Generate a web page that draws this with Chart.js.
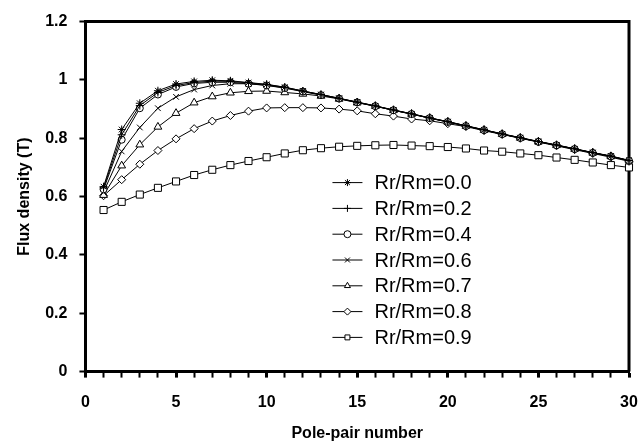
<!DOCTYPE html>
<html>
<head>
<meta charset="utf-8">
<script src="https://cdn.jsdelivr.net/npm/chart.js@4/dist/chart.umd.min.js"></script>
<style>
  html, body { margin: 0; padding: 0; background: #fff; }
  #wrap { width: 642px; height: 443px; }
</style>
</head>
<body>
<div id="wrap"><canvas id="flux-chart" width="642" height="443"></canvas></div>
<script>
// pole-pair numbers (x)
const polePairs = [1, 2, 3, 4, 5, 6, 7, 8, 9, 10, 11, 12, 13, 14, 15,
  16, 17, 18, 19, 20, 21, 22, 23, 24, 25, 26, 27, 28, 29, 30];

// flux density (T) for each Rr/Rm ratio
const flux00 = [0.634, 0.830, 0.920, 0.963, 0.986, 0.995, 0.999, 0.997, 0.991, 0.985,
  0.975, 0.962, 0.950, 0.937, 0.924, 0.911, 0.897, 0.884, 0.870, 0.857,
  0.843, 0.829, 0.815, 0.802, 0.789, 0.777, 0.764, 0.751, 0.739, 0.724];
const flux02 = [0.630, 0.812, 0.912, 0.957, 0.981, 0.991, 0.996, 0.995, 0.990, 0.984,
  0.975, 0.962, 0.950, 0.937, 0.924, 0.911, 0.897, 0.884, 0.870, 0.857,
  0.843, 0.829, 0.815, 0.802, 0.789, 0.777, 0.764, 0.751, 0.739, 0.724];
const flux04 = [0.625, 0.795, 0.903, 0.950, 0.976, 0.988, 0.992, 0.992, 0.987, 0.981,
  0.972, 0.960, 0.948, 0.936, 0.923, 0.910, 0.896, 0.883, 0.869, 0.856,
  0.842, 0.828, 0.814, 0.801, 0.788, 0.776, 0.763, 0.750, 0.738, 0.723];
const flux06 = [0.615, 0.755, 0.837, 0.903, 0.942, 0.967, 0.981, 0.987, 0.987, 0.982,
  0.973, 0.961, 0.949, 0.936, 0.923, 0.910, 0.896, 0.883, 0.869, 0.856,
  0.842, 0.828, 0.814, 0.801, 0.788, 0.776, 0.763, 0.750, 0.738, 0.723];
const flux07 = [0.605, 0.706, 0.778, 0.839, 0.886, 0.922, 0.943, 0.956, 0.961, 0.962,
  0.957, 0.952, 0.945, 0.935, 0.922, 0.910, 0.896, 0.883, 0.869, 0.856,
  0.842, 0.828, 0.814, 0.801, 0.788, 0.776, 0.763, 0.750, 0.738, 0.723];
const flux08 = [0.603, 0.658, 0.711, 0.758, 0.798, 0.833, 0.859, 0.878, 0.893, 0.904,
  0.905, 0.905, 0.904, 0.900, 0.894, 0.884, 0.876, 0.866, 0.860, 0.850,
  0.840, 0.826, 0.813, 0.800, 0.787, 0.774, 0.761, 0.748, 0.735, 0.721];
const flux09 = [0.554, 0.582, 0.607, 0.630, 0.652, 0.674, 0.692, 0.708, 0.722, 0.735,
  0.748, 0.759, 0.766, 0.771, 0.774, 0.776, 0.777, 0.775, 0.773, 0.770,
  0.765, 0.758, 0.754, 0.748, 0.742, 0.734, 0.726, 0.717, 0.708, 0.700];

const seriesLabels = ['Rr/Rm=0.0', 'Rr/Rm=0.2', 'Rr/Rm=0.4', 'Rr/Rm=0.6',
  'Rr/Rm=0.7', 'Rr/Rm=0.8', 'Rr/Rm=0.9'];
const seriesValues = [flux00, flux02, flux04, flux06, flux07, flux08, flux09];
const pointStyles = ['star', 'cross', 'circle', 'crossRot', 'triangle', 'rectRot', 'rect'];
const pointSizes = [4, 4, 3.5, 4, 4.5, 4, 5];

const FONT = 'Arial, "Liberation Sans", sans-serif';

const datasets = seriesValues.map((vals, i) => ({
  label: seriesLabels[i],
  data: polePairs.map((p, j) => ({ x: p, y: vals[j] })),
  borderColor: '#000',
  borderWidth: 1,
  pointStyle: pointStyles[i],
  pointRadius: pointSizes[i],
  pointBorderColor: '#000',
  pointBackgroundColor: '#fff',
  pointBorderWidth: 1,
  tension: 0,
  clip: false
}));

// top and right edges of the plot frame
const frameBox = {
  id: 'frameBox',
  beforeDatasetsDraw(chart) {
    const { ctx, chartArea: a } = chart;
    ctx.save();
    ctx.strokeStyle = '#000';
    ctx.lineWidth = 3;
    ctx.beginPath();
    ctx.moveTo(a.left, a.top);
    ctx.lineTo(a.right, a.top);
    ctx.lineTo(a.right, a.bottom);
    ctx.stroke();
    ctx.restore();
  }
};

// legend drawn inside the plot, lower middle
const insideLegend = {
  id: 'insideLegend',
  afterDraw(chart) {
    const { ctx, chartArea: a } = chart;
    const x0 = a.left + 247;
    const y0 = a.top + 161;
    ctx.save();
    ctx.font = '20px ' + FONT;
    ctx.textBaseline = 'middle';
    ctx.textAlign = 'left';
    chart.data.datasets.forEach((ds, i) => {
      const y = y0 + i * 25.8;
      ctx.strokeStyle = '#000';
      ctx.lineWidth = 1;
      ctx.beginPath();
      ctx.moveTo(x0, y);
      ctx.lineTo(x0 + 30, y);
      ctx.stroke();
      ctx.fillStyle = '#fff';
      Chart.helpers.drawPoint(ctx, {
        pointStyle: ds.pointStyle,
        radius: Math.min(ds.pointRadius, 3.5),
        borderWidth: 1,
        rotation: 0
      }, x0 + 15, y);
      ctx.fillStyle = '#000';
      ctx.fillText(ds.label, x0 + 42, y + 1);
    });
    ctx.restore();
  }
};

const ctx = document.getElementById('flux-chart').getContext('2d');
new Chart(ctx, {
  type: 'line',
  data: { datasets: datasets },
  plugins: [frameBox, insideLegend],
  options: {
    responsive: false,
    animation: false,
    layout: { padding: { left: 15, right: 13, top: 20, bottom: 0 } },
    plugins: {
      legend: { display: false },
      tooltip: { enabled: false }
    },
    scales: {
      x: {
        type: 'linear',
        min: 0,
        max: 30,
        // let the "30" label hang past the frame instead of shrinking the plot
        afterFit: scale => { scale.paddingRight = 0; },
        grid: {
          drawOnChartArea: false,
          color: '#000',
          tickLength: 6,
          tickWidth: c => (c.tick && c.tick.value % 5 === 0 ? 3 : 2)
        },
        border: { color: '#000', width: 3 },
        ticks: {
          stepSize: 1,
          autoSkip: false,
          maxRotation: 0,
          padding: 15,
          color: '#000',
          font: { family: FONT, size: 16, weight: 'bold' },
          callback: v => (v % 5 === 0 ? String(v) : '')
        },
        title: {
          display: true,
          text: 'Pole-pair number',
          color: '#000',
          font: { family: FONT, size: 16, weight: 'bold' },
          padding: { top: -3, bottom: 0 }
        }
      },
      y: {
        min: 0,
        max: 1.2,
        grid: { drawOnChartArea: false, color: '#000', tickLength: 6, tickWidth: 2 },
        border: { color: '#000', width: 3 },
        ticks: {
          stepSize: 0.2,
          padding: 12,
          color: '#000',
          font: { family: FONT, size: 16, weight: 'bold' },
          callback: v => String(Number(v.toFixed(1)))
        },
        title: {
          display: true,
          text: 'Flux density (T)',
          color: '#000',
          font: { family: FONT, size: 16, weight: 'bold' },
          padding: { top: 0, bottom: -1 }
        }
      }
    }
  }
});
</script>
</body>
</html>
